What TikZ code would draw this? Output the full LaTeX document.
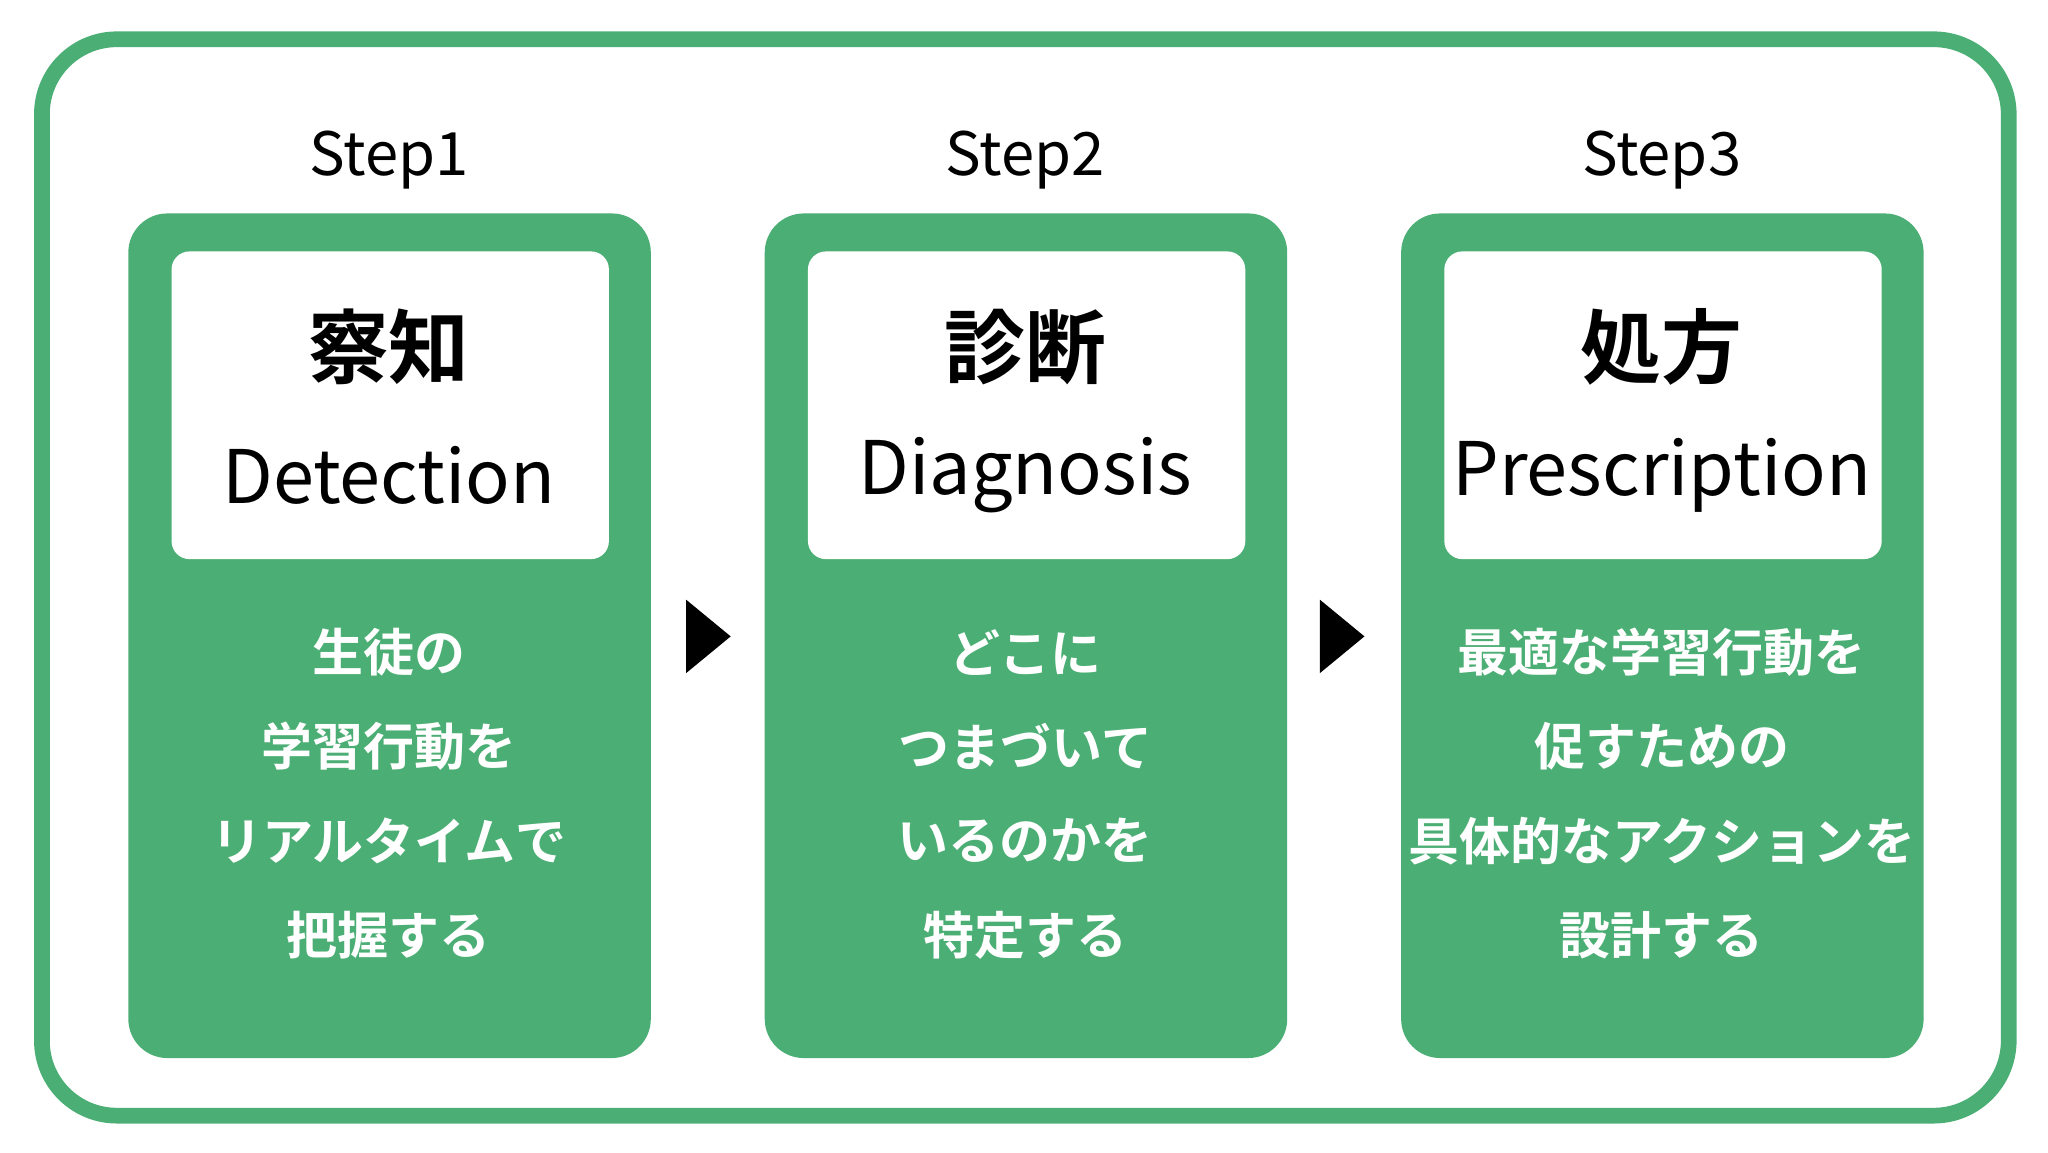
\documentclass[tikz,border=0pt]{standalone}
\usepackage{fontspec}
\setmainfont{Noto Sans CJK JP}[BoldFont={* Bold}]
\definecolor{grn}{HTML}{4BAE74}
\begin{document}
\begin{tikzpicture}[x=0.013095cm,y=-0.013095cm,
  card/.style={fill=grn,rounded corners=0.39cm},
  inner/.style={fill=white,rounded corners=0.18cm},
  stp/.style={font=\fontsize{17}{20}\selectfont},
  ttl/.style={font=\fontsize{23}{26}\selectfont\bfseries},
  eng/.style={font=\fontsize{21}{24}\selectfont},
  body/.style={text=white,font=\fontsize{14.5}{17}\selectfont\bfseries},
  tri/.style={fill=black}]
\useasboundingbox (0,0) rectangle (1564,880);
\draw[grn,line width=12*0.013095cm,rounded corners=0.75cm] (32,30) rectangle (1534,852);
\foreach \cx/\n in {297/1,783/2,1269/3}{
  \fill[card] (\cx-199,163) rectangle (\cx+200,808);
  \fill[inner] (\cx-166,192) rectangle (\cx+168,427);
  \node[stp] (s\n) at (\cx,122) {Step\n};
}
\node[ttl] (t1) at (297,265) {察知};
\node[eng] (e1) at (297,363) {Detection};
\node[ttl] (t2) at (783,265) {診断};
\node[eng] (e2) at (783,363) {Diagnosis};
\node[ttl] (t3) at (1269,265) {処方};
\node[eng] (e3) at (1269,363) {Prescription};
\foreach \i/\t in {1/生徒の,2/学習行動を,3/リアルタイムで,4/把握する}
  \node[body] (a\i) at (297,426+72*\i) {\t};
\foreach \i/\t in {1/どこに,2/つまづいて,3/いるのかを,4/特定する}
  \node[body] (b\i) at (783,426+72*\i) {\t};
\foreach \i/\t in {1/最適な学習行動を,2/促すための,3/具体的なアクションを,4/設計する}
  \node[body] (c\i) at (1269,426+72*\i) {\t};
\fill[tri] (524,458) -- (558,486) -- (524,514) -- cycle;
\fill[tri] (1008,458) -- (1042,486) -- (1008,514) -- cycle;
\end{tikzpicture}
\end{document}
